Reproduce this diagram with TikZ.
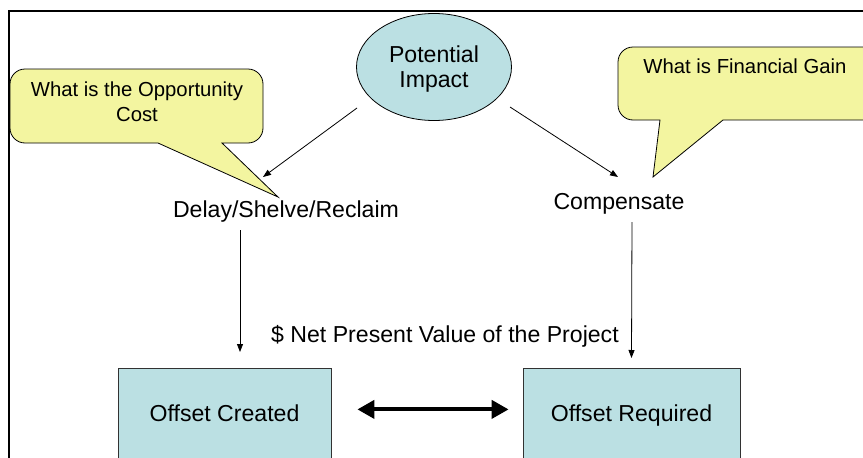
\documentclass[tikz,border=0pt]{standalone}
\usepackage{fontspec}
\setmainfont{Liberation Sans}
\usetikzlibrary{arrows.meta,shapes.geometric}
\definecolor{bleuC}{RGB}{187,224,227}
\definecolor{jaune}{RGB}{243,245,160}
\definecolor{trait}{RGB}{50,50,50}
\tikzset{
  lbl/.style={font=\fontsize{23.1}{25}\selectfont, inner sep=0pt, anchor=base},
  bulle/.style={draw=black, line width=0.8pt, fill=jaune},
  bultxt/.style={font=\fontsize{20.3}{25}\selectfont, align=center, inner sep=0pt},
  boite/.style={rectangle, draw=trait, line width=0.8pt, fill=bleuC, font=\fontsize{23.1}{25}\selectfont,
                minimum height=110pt, text depth=20pt, anchor=north},
  arr/.style={-{Triangle[length=8pt,width=6pt]}, line width=0.8pt},
  darr/.style={{Triangle[length=17pt,width=18pt]}-{Triangle[length=17pt,width=18pt]}, line width=4pt},
}
\begin{document}
\begin{tikzpicture}[x=1pt, y=-1pt]
  \clip (0,0) rectangle (863,458);
  \draw[line width=2pt] (9,470) -- (9,11) -- (870,11);
  % bulles
  \draw[bulle] (278,197) -- (222,143) -- (242,143) [rounded corners=15] -- (263,143) -- (263,69)
    -- (10,69) -- (10,143) -- (140,143) [sharp corners] -- (158,143) -- cycle;
  \draw[bulle] (653,177) -- (660,120) -- (640,120) [rounded corners=15] -- (618,120) -- (618,47)
    -- (885,47) -- (885,120) -- (740,120) [sharp corners] -- (723,120) -- cycle;
  \node[bultxt] (cout) at (137,102) {What is the Opportunity\\Cost};
  \node[bultxt, anchor=base] (gain) at (745,73) {What is Financial Gain};
  % noeuds
  \node[ellipse, draw=black, line width=0.8pt, fill=bleuC, minimum width=155pt, minimum height=107pt,
        inner sep=0pt, align=center, text depth=0pt, font=\fontsize{23.1}{25}\selectfont] (imp) at (434,67) {Potential\\Impact};
  \node[lbl] (delay) at (286,217) {Delay/Shelve/Reclaim};
  \node[lbl] (comp) at (619,209) {Compensate};
  \node[lbl] (npv) at (445,342) {\$ Net Present Value of the Project};
  \node[boite, minimum width=213pt] (cre) at (224.5,368) {Offset Created};
  \node[boite, minimum width=217pt] (req) at (631.5,368) {Offset Required};
  % fleches
  \draw[arr] ([shift={(-77,41)}]imp.center) -- ([shift={(-23,-40)}]delay.base);
  \draw[arr] ([shift={(76,40)}]imp.center) -- ([shift={(-1,-32)}]comp.base);
  \draw[arr] ([shift={(-46,13)}]delay.base) -- ([shift={(15.5,-16)}]cre.north);
  \draw[arr] ([shift={(13,13)}]comp.base) -- ([shift={(0,-10)}]req.north);
  \draw[darr] ([shift={(26,-14)}]cre.east) -- ([shift={(-14,-14)}]req.west);
\end{tikzpicture}
\end{document}
